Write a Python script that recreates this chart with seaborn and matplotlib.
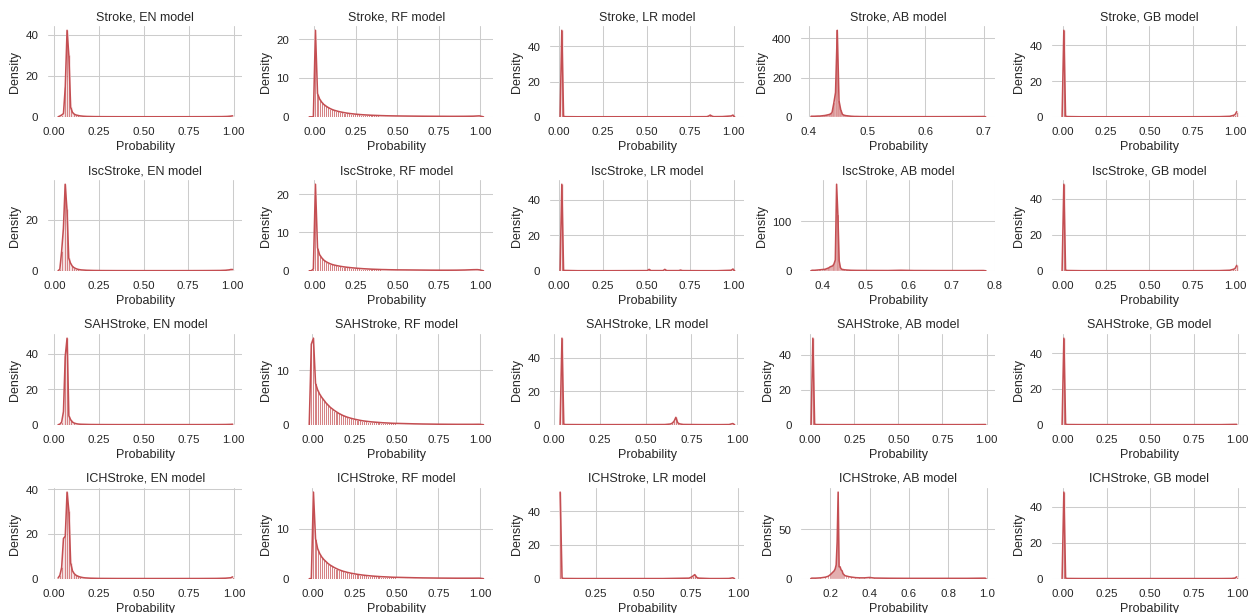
import numpy as np
import pandas as pd
import matplotlib
matplotlib.use("Agg")
import matplotlib.pyplot as plt
import seaborn as sns

# ---------------------------------------------------------------------------
# Predicted-probability distributions: bin centres (x) and density (y) per
# outcome / model.  Bin widths are listed per panel below.
# ---------------------------------------------------------------------------
targets = ["Stroke", "IscStroke", "SAHStroke", "ICHStroke"]
models = ["EN", "RF", "LR", "AB", "GB"]

# ---- Stroke ---------------------------------------------------------------
stroke_en_x = [0.025, 0.035, 0.045, 0.055, 0.065, 0.075, 0.085, 0.095, 0.105, 0.115,
               0.125, 0.135, 0.145, 0.155, 0.165, 0.175, 0.185, 0.195, 0.225, 0.275,
               0.355, 0.455, 0.555, 0.655, 0.755, 0.855, 0.935, 0.965, 0.985, 0.995]
stroke_en_y = [0.0, 0.4, 0.9, 1.6, 14.5, 42.3, 30.0, 4.6, 2.2, 1.3,
               0.9, 0.7, 0.5, 0.4, 0.3, 0.25, 0.2, 0.18, 0.12, 0.08,
               0.06, 0.05, 0.05, 0.05, 0.06, 0.08, 0.12, 0.2, 0.35, 0.5]

stroke_rf_x = [-0.03125, -0.01875, -0.00625, 0.00625, 0.01875, 0.03125, 0.04375, 0.05625,
               0.06875, 0.08125, 0.09375, 0.10625, 0.11875, 0.13125, 0.14375, 0.15625,
               0.16875, 0.18125, 0.19375, 0.20625, 0.21875, 0.23125, 0.24375, 0.25625,
               0.26875, 0.28125, 0.29375, 0.30625, 0.31875, 0.33125, 0.34375, 0.35625,
               0.36875, 0.38125, 0.39375, 0.40625, 0.41875, 0.43125, 0.44375, 0.45625,
               0.46875, 0.48125, 0.49375, 0.55625, 0.60625, 0.65625, 0.70625, 0.75625,
               0.80625, 0.85625, 0.90625, 0.95625, 0.99375, 1.01875]
stroke_rf_y = [0.0, 0.0, 0.0, 22.3, 6.0, 4.6, 3.8, 3.2,
               2.8, 2.45, 2.15, 1.9, 1.7, 1.55, 1.4, 1.28,
               1.17, 1.07, 0.98, 0.9, 0.83, 0.77, 0.71, 0.66,
               0.61, 0.57, 0.53, 0.5, 0.47, 0.44, 0.41, 0.39,
               0.37, 0.35, 0.33, 0.31, 0.3, 0.28, 0.27, 0.26,
               0.25, 0.24, 0.23, 0.2, 0.18, 0.16, 0.15, 0.14,
               0.13, 0.13, 0.14, 0.17, 0.25, 0.0]

stroke_lr_x = [0.005, 0.015, 0.025, 0.035, 0.105, 0.255, 0.505, 0.755, 0.845, 0.855,
               0.865, 0.875, 0.885, 0.935, 0.985, 0.995, 1.005]
stroke_lr_y = [0.0, 49.1, 0.3, 0.1, 0.05, 0.05, 0.05, 0.05, 0.1, 0.4,
               1.0, 0.4, 0.1, 0.15, 0.5, 1.0, 0.0]

stroke_ab_x = [0.4035, 0.4065, 0.4095, 0.4125, 0.4155, 0.4185, 0.4215, 0.4245, 0.4275,
               0.4305, 0.4335, 0.4365, 0.4395, 0.4425, 0.4455, 0.4485, 0.4515, 0.4545,
               0.4575, 0.4605, 0.4635, 0.4665, 0.4695, 0.4725, 0.4755, 0.4785, 0.4815,
               0.4875, 0.4965, 0.5025, 0.5505, 0.6015, 0.6495, 0.6795, 0.6975, 0.7005,
               0.7035]
stroke_ab_y = [3.0, 3.0, 3.0, 3.5, 4.0, 4.0, 5.0, 6.0, 7.0,
               9.0, 11.0, 14.0, 22.0, 69.0, 124.0, 441.0, 81.0, 35.0,
               12.0, 8.0, 6.0, 5.0, 4.0, 3.0, 2.5, 2.0, 2.0,
               1.5, 1.2, 1.0, 0.8, 0.8, 1.0, 1.2, 1.5, 2.0,
               0.0]

stroke_gb_x = [-0.005, 0.005, 0.015, 0.025, 0.105, 0.305, 0.505, 0.705, 0.905, 0.965,
               0.985, 0.995, 1.005]
stroke_gb_y = [0.0, 48.5, 0.4, 0.15, 0.05, 0.05, 0.05, 0.05, 0.1, 0.3,
               0.8, 1.2, 2.9]

# ---- IscStroke ------------------------------------------------------------
isc_en_x = [0.02, 0.03, 0.04, 0.05, 0.06, 0.07, 0.08, 0.09, 0.10, 0.11,
            0.12, 0.13, 0.14, 0.15, 0.16, 0.17, 0.18, 0.19, 0.22, 0.27,
            0.35, 0.45, 0.55, 0.65, 0.75, 0.85, 0.93, 0.96, 0.98, 0.99, 1.0]
isc_en_y = [0.0, 0.6, 7.6, 16.7, 34.1, 24.2, 5.0, 3.0, 1.8, 1.2,
            0.85, 0.6, 0.45, 0.35, 0.3, 0.25, 0.2, 0.18, 0.12, 0.08,
            0.06, 0.05, 0.05, 0.05, 0.06, 0.08, 0.12, 0.2, 0.35, 0.5, 0.5]

isc_rf_x = [-0.03125, -0.01875, -0.00625, 0.00625, 0.01875, 0.03125, 0.04375, 0.05625,
            0.06875, 0.08125, 0.09375, 0.10625, 0.11875, 0.13125, 0.14375, 0.15625,
            0.16875, 0.18125, 0.19375, 0.20625, 0.21875, 0.23125, 0.24375, 0.25625,
            0.26875, 0.28125, 0.29375, 0.30625, 0.31875, 0.33125, 0.34375, 0.35625,
            0.36875, 0.38125, 0.39375, 0.40625, 0.41875, 0.43125, 0.44375, 0.45625,
            0.46875, 0.48125, 0.49375, 0.55625, 0.60625, 0.65625, 0.70625, 0.75625,
            0.80625, 0.85625, 0.90625, 0.95625, 0.98125, 0.99375, 1.01875]
isc_rf_y = [0.0, 0.0, 0.5, 22.6, 6.0, 4.2, 3.4, 2.8,
            2.4, 2.1, 1.85, 1.65, 1.5, 1.38, 1.27, 1.17,
            1.08, 1.0, 0.93, 0.87, 0.81, 0.76, 0.71, 0.66,
            0.62, 0.58, 0.54, 0.51, 0.48, 0.45, 0.42, 0.4,
            0.38, 0.36, 0.34, 0.32, 0.31, 0.3, 0.28, 0.27,
            0.26, 0.25, 0.24, 0.22, 0.2, 0.18, 0.16, 0.15,
            0.15, 0.16, 0.2, 0.28, 0.3, 0.25, 0.0]

isc_lr_x = [0.005, 0.015, 0.025, 0.105, 0.305, 0.505, 0.515, 0.525, 0.595, 0.605,
            0.615, 0.685, 0.695, 0.705, 0.805, 0.905, 0.985, 0.995, 1.005]
isc_lr_y = [0.0, 48.9, 0.2, 0.05, 0.05, 0.1, 0.8, 0.1, 0.1, 0.8,
            0.1, 0.1, 0.4, 0.1, 0.05, 0.05, 0.3, 1.0, 0.0]

isc_ab_x = [0.372, 0.375, 0.381, 0.387, 0.393, 0.399, 0.405, 0.408, 0.411, 0.414,
            0.417, 0.420, 0.423, 0.426, 0.429, 0.432, 0.435, 0.438, 0.441, 0.444,
            0.447, 0.450, 0.456, 0.465, 0.477, 0.507, 0.552, 0.582, 0.612, 0.672,
            0.732, 0.774, 0.780]
isc_ab_y = [0.0, 1.0, 1.0, 1.5, 2.0, 2.5, 3.0, 4.0, 5.0, 6.0,
            8.0, 9.0, 10.0, 14.0, 22.0, 175.0, 112.0, 20.0, 6.0, 3.0,
            2.5, 2.0, 1.5, 1.0, 0.8, 0.6, 0.5, 1.0, 0.5, 0.4,
            0.4, 0.5, 0.0]

isc_gb_x = [-0.005, 0.005, 0.015, 0.025, 0.105, 0.305, 0.505, 0.705, 0.905, 0.965,
            0.985, 0.995, 1.005]
isc_gb_y = [0.0, 47.9, 0.4, 0.15, 0.05, 0.05, 0.05, 0.05, 0.1, 0.3,
            0.8, 1.2, 3.0]

# ---- SAHStroke ------------------------------------------------------------
sah_en_x = [0.023, 0.033, 0.043, 0.053, 0.063, 0.073, 0.083, 0.093, 0.103, 0.113,
            0.123, 0.133, 0.143, 0.153, 0.173, 0.203, 0.253, 0.353, 0.503, 0.653,
            0.803, 0.903, 0.953, 0.983, 0.993]
sah_en_y = [0.0, 0.3, 1.5, 7.4, 38.7, 48.7, 5.0, 2.8, 1.5, 0.9,
            0.6, 0.4, 0.3, 0.25, 0.2, 0.12, 0.08, 0.05, 0.05, 0.05,
            0.06, 0.08, 0.12, 0.2, 0.3]

sah_rf_x = [-0.01875, -0.00625, 0.00625, 0.01875, 0.03125, 0.04375, 0.05625,
            0.06875, 0.08125, 0.09375, 0.10625, 0.11875, 0.13125, 0.14375, 0.15625,
            0.16875, 0.18125, 0.19375, 0.20625, 0.21875, 0.23125, 0.24375, 0.25625,
            0.26875, 0.28125, 0.29375, 0.30625, 0.31875, 0.33125, 0.34375, 0.35625,
            0.36875, 0.38125, 0.39375, 0.40625, 0.41875, 0.43125, 0.44375, 0.45625,
            0.46875, 0.48125, 0.49375, 0.55625, 0.60625, 0.65625, 0.70625, 0.75625,
            0.80625, 0.85625, 0.90625, 0.95625, 0.99375, 1.01875]
sah_rf_y = [0.0, 14.8, 15.9, 7.6, 6.4, 5.6, 5.0,
            4.5, 4.0, 3.6, 3.2, 2.9, 2.6, 2.35, 2.1,
            1.9, 1.7, 1.55, 1.4, 1.28, 1.17, 1.07, 0.98,
            0.9, 0.82, 0.75, 0.69, 0.64, 0.59, 0.55, 0.51,
            0.48, 0.45, 0.42, 0.39, 0.36, 0.34, 0.32, 0.3,
            0.28, 0.26, 0.25, 0.2, 0.16, 0.13, 0.11, 0.09,
            0.08, 0.07, 0.07, 0.07, 0.08, 0.0]

sah_lr_x = [0.035, 0.045, 0.055, 0.065, 0.155, 0.305, 0.455, 0.605, 0.635, 0.645,
            0.655, 0.665, 0.675, 0.685, 0.705, 0.805, 0.905, 0.955, 0.975, 0.985]
sah_lr_y = [0.0, 51.6, 0.3, 0.1, 0.05, 0.05, 0.05, 0.1, 0.4, 0.9,
            2.0, 4.4, 1.2, 0.5, 0.15, 0.05, 0.05, 0.1, 0.7, 0.0]

sah_ab_x = [0.005, 0.015, 0.025, 0.035, 0.105, 0.505, 0.905, 0.995]
sah_ab_y = [0.0, 49.6, 0.3, 0.1, 0.05, 0.05, 0.05, 0.1]

sah_gb_x = [-0.005, 0.005, 0.015, 0.025, 0.105, 0.505, 0.905, 0.995]
sah_gb_y = [0.0, 48.4, 0.3, 0.1, 0.05, 0.05, 0.05, 0.2]

# ---- ICHStroke ------------------------------------------------------------
ich_en_x = [0.022, 0.032, 0.042, 0.052, 0.062, 0.072, 0.082, 0.092, 0.102, 0.112,
            0.122, 0.132, 0.142, 0.152, 0.162, 0.172, 0.182, 0.202, 0.252, 0.352,
            0.502, 0.652, 0.802, 0.902, 0.952, 0.982, 0.992]
ich_en_y = [0.3, 1.5, 5.0, 18.0, 19.0, 38.8, 30.4, 7.0, 3.5, 2.2,
            1.5, 1.1, 0.8, 0.6, 0.45, 0.35, 0.3, 0.2, 0.1, 0.06,
            0.05, 0.05, 0.06, 0.1, 0.2, 0.4, 0.8]

ich_rf_x = [-0.01875, -0.00625, 0.00625, 0.01875, 0.03125, 0.04375, 0.05625,
            0.06875, 0.08125, 0.09375, 0.10625, 0.11875, 0.13125, 0.14375, 0.15625,
            0.16875, 0.18125, 0.19375, 0.20625, 0.21875, 0.23125, 0.24375, 0.25625,
            0.26875, 0.28125, 0.29375, 0.30625, 0.31875, 0.33125, 0.34375, 0.35625,
            0.36875, 0.38125, 0.39375, 0.40625, 0.41875, 0.43125, 0.44375, 0.45625,
            0.46875, 0.48125, 0.49375, 0.55625, 0.60625, 0.65625, 0.70625, 0.75625,
            0.80625, 0.85625, 0.90625, 0.95625, 0.99375, 1.01875]
ich_rf_y = [0.0, 0.0, 17.3, 8.0, 6.0, 5.0, 4.3,
            3.8, 3.4, 3.0, 2.7, 2.45, 2.2, 2.0, 1.8,
            1.65, 1.5, 1.38, 1.27, 1.17, 1.08, 1.0, 0.93,
            0.86, 0.8, 0.74, 0.69, 0.64, 0.6, 0.56, 0.52,
            0.49, 0.46, 0.43, 0.4, 0.38, 0.36, 0.34, 0.32,
            0.3, 0.28, 0.27, 0.22, 0.18, 0.15, 0.13, 0.11,
            0.1, 0.09, 0.09, 0.09, 0.1, 0.0]

ich_lr_x = [0.06, 0.07, 0.08, 0.15, 0.30, 0.45, 0.60, 0.74, 0.75,
            0.76, 0.77, 0.78, 0.79, 0.85, 0.90, 0.95, 0.97, 0.98]
ich_lr_y = [51.5, 0.3, 0.1, 0.05, 0.05, 0.05, 0.05, 0.3, 0.8,
            1.5, 2.4, 0.8, 0.3, 0.05, 0.05, 0.1, 0.5, 0.0]

ich_ab_x = [0.099, 0.104, 0.124, 0.149, 0.174, 0.189, 0.199, 0.204, 0.209, 0.214,
            0.219, 0.224, 0.229, 0.234, 0.239, 0.244, 0.249, 0.254, 0.259, 0.264,
            0.269, 0.274, 0.284, 0.294, 0.309, 0.329, 0.349, 0.374, 0.399, 0.424,
            0.499, 0.599, 0.699, 0.799, 0.899, 0.989, 0.994]
ich_ab_y = [0.0, 0.5, 0.5, 0.8, 1.5, 2.5, 4.0, 5.0, 6.0, 7.0,
            8.0, 10.0, 14.0, 37.5, 88.0, 12.0, 12.0, 9.0, 8.0, 5.0,
            4.0, 3.0, 2.5, 2.0, 1.5, 1.0, 0.8, 0.8, 1.2, 0.6,
            0.4, 0.3, 0.3, 0.3, 0.3, 0.5, 0.0]

ich_gb_x = [-0.005, 0.005, 0.015, 0.025, 0.105, 0.505, 0.905, 0.965, 0.985, 0.995]
ich_gb_y = [0.0, 48.0, 0.3, 0.1, 0.05, 0.05, 0.05, 0.1, 0.3, 1.0]

# histogram bin width used for each panel (rows: targets, columns: models)
bin_widths = [
    [0.01, 0.0125, 0.01, 0.003, 0.01],
    [0.01, 0.0125, 0.01, 0.003, 0.01],
    [0.01, 0.0125, 0.01, 0.01, 0.01],
    [0.01, 0.0125, 0.01, 0.005, 0.01],
]

panel_data = [
    [(stroke_en_x, stroke_en_y), (stroke_rf_x, stroke_rf_y), (stroke_lr_x, stroke_lr_y),
     (stroke_ab_x, stroke_ab_y), (stroke_gb_x, stroke_gb_y)],
    [(isc_en_x, isc_en_y), (isc_rf_x, isc_rf_y), (isc_lr_x, isc_lr_y),
     (isc_ab_x, isc_ab_y), (isc_gb_x, isc_gb_y)],
    [(sah_en_x, sah_en_y), (sah_rf_x, sah_rf_y), (sah_lr_x, sah_lr_y),
     (sah_ab_x, sah_ab_y), (sah_gb_x, sah_gb_y)],
    [(ich_en_x, ich_en_y), (ich_rf_x, ich_rf_y), (ich_lr_x, ich_lr_y),
     (ich_ab_x, ich_ab_y), (ich_gb_x, ich_gb_y)],
]

sns.set_theme(style="whitegrid", context="notebook")
plt.rcParams["font.family"] = ["Liberation Sans", "DejaVu Sans"]

RED = sns.color_palette("deep")[3]

fig, axes = plt.subplots(4, 5, figsize=(1249.4 / 75, 613.4 / 75), dpi=75)
fig.subplots_adjust(left=0.0387, right=0.9976, bottom=0.056, top=0.957,
                    wspace=0.294, hspace=0.694)


def draw_panel(ax, x, y, width, title):
    df = pd.DataFrame({"Probability": x, "Density": y})
    lo = df["Probability"].min() - width / 2
    hi = df["Probability"].max() + width / 2
    if width > 0.011:
        edge_lw = 0.9
    elif width >= 0.01:
        edge_lw = 0.6
    else:
        edge_lw = 0.25
    sns.histplot(data=df, x="Probability", weights="Density", binwidth=width,
                 binrange=(lo, hi), stat="count", color=RED, alpha=0.7,
                 edgecolor="white", linewidth=edge_lw, ax=ax)
    sns.lineplot(data=df, x="Probability", y="Density", color=RED,
                 linewidth=1.5, ax=ax)
    ax.set_title(title)
    ax.set_xlabel("Probability")
    ax.set_ylabel("Density")
    sns.despine(ax=ax, left=True, bottom=True)


for i, target in enumerate(targets):
    for j, model in enumerate(models):
        x, y = panel_data[i][j]
        draw_panel(axes[i, j], x, y, bin_widths[i][j], f"{target}, {model} model")

fig.savefig("out.png", dpi=75)
